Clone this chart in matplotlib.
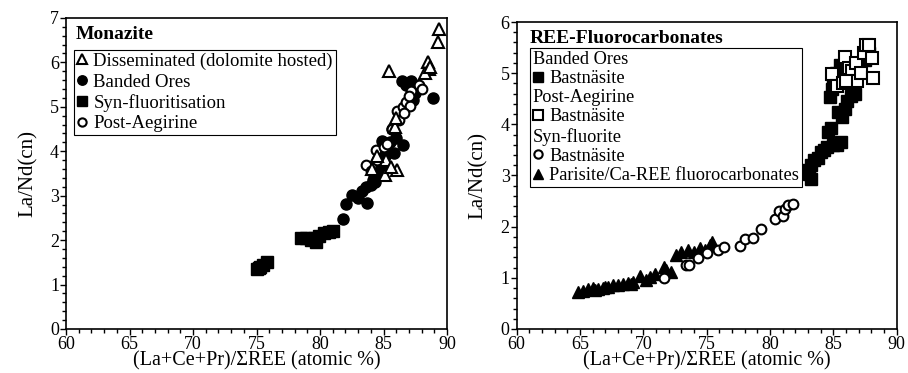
import matplotlib
matplotlib.use("Agg")
import matplotlib.pyplot as plt
from matplotlib.ticker import MultipleLocator
from matplotlib.lines import Line2D

plt.rcParams['font.family'] = ['Liberation Serif', 'DejaVu Serif']

# ---- Monazite (left panel) ----
diss_x = [89.4, 89.3, 88.5, 88.6, 88.3, 85.4, 86.1, 85.1, 84.1, 85.2, 85.6, 85.9, 86.0, 84.5, 88.7]
diss_y = [6.74, 6.45, 6.0, 5.85, 5.75, 5.8, 3.57, 3.46, 3.6, 3.8, 3.65, 4.55, 4.75, 3.9, 5.9]

banded_x = [81.8, 82.05, 82.5, 83.0, 83.3, 83.7, 84.0, 84.3, 84.6, 84.8, 84.9, 85.3, 85.5, 85.8,
            86.0, 86.5, 86.46, 87.2, 87.5, 87.3, 88.9, 86.8, 85.7, 86.2, 83.6, 84.2, 85.1]
banded_y = [2.47, 2.81, 3.02, 2.95, 3.1, 2.84, 3.25, 3.3, 3.5, 3.7, 4.22, 4.0, 4.2, 3.95,
            4.3, 4.13, 5.57, 5.57, 5.3, 5.15, 5.2, 5.5, 4.5, 4.8, 3.2, 3.35, 3.9]

synfl_x = [75.0, 75.2, 75.5, 75.8, 75.3, 78.5, 78.9, 79.3, 79.7, 79.9, 80.3, 80.7, 81.0, 79.5]
synfl_y = [1.35, 1.38, 1.45, 1.5, 1.4, 2.05, 2.05, 2.0, 1.95, 2.1, 2.15, 2.18, 2.2, 2.05]

postaeg_x = [83.6, 84.4, 84.5, 85.0, 85.3, 85.7, 86.2, 86.1, 86.5, 86.8, 87.1, 87.2, 87.0, 87.8,
             88.0, 86.6, 84.0]
postaeg_y = [3.68, 4.03, 3.8, 4.1, 4.16, 4.5, 4.71, 4.9, 5.0, 5.1, 5.01, 5.35, 5.25, 5.5,
             5.4, 4.85, 3.55]

# ---- REE-Fluorocarbonates (right panel) ----
bast_band_x = [83.2, 83.0, 83.2, 83.5, 83.8, 84.0, 84.3, 84.5, 84.6, 84.8, 85.0, 85.3, 85.6,
               85.4, 85.7, 85.9, 86.1, 86.4, 86.7, 84.7, 85.0, 85.2, 85.5, 85.8, 86.2, 87.1,
               87.5, 87.8, 87.6, 83.1, 84.9]
bast_band_y = [2.94, 3.1, 3.2, 3.3, 3.35, 3.45, 3.5, 3.55, 3.85, 3.92, 3.6, 3.6, 3.65,
               4.25, 4.15, 4.3, 4.45, 4.55, 4.6, 4.53, 4.85, 5.0, 5.15, 5.05, 5.1, 5.1,
               5.25, 5.4, 5.55, 3.02, 4.7]

bast_post_x = [84.9, 85.3, 85.9, 85.8, 86.2, 86.5, 86.8, 86.9, 87.2, 87.4, 87.55, 87.8, 88.08,
               88.1, 86.0]
bast_post_y = [4.99, 4.75, 5.32, 4.8, 5.1, 5.05, 5.2, 4.85, 5.0, 5.4, 5.56, 5.55, 5.3,
               4.9, 4.85]

bast_syn_x = [71.6, 73.4, 73.6, 74.3, 75.0, 75.9, 76.4, 77.6, 78.0, 78.65, 79.3, 80.4, 80.7,
              81.0, 81.2, 81.4, 81.8]
bast_syn_y = [1.0, 1.26, 1.25, 1.38, 1.48, 1.55, 1.6, 1.63, 1.75, 1.77, 1.95, 2.15, 2.3,
              2.2, 2.35, 2.42, 2.44]

parisite_x = [64.84, 65.2, 65.6, 66.0, 66.4, 66.8, 67.2, 67.6, 68.0, 68.4, 68.8, 69.2, 69.7,
              70.2, 70.5, 70.9, 71.6, 71.8, 72.2, 72.6, 73.0, 73.5, 74.0, 74.5, 74.9, 75.3,
              75.45, 66.2, 67.0, 69.0]
parisite_y = [0.73, 0.75, 0.78, 0.8, 0.78, 0.8, 0.83, 0.85, 0.86, 0.87, 0.9, 0.92, 1.03,
              0.95, 1.02, 1.08, 1.22, 1.15, 1.12, 1.44, 1.5, 1.55, 1.5, 1.58, 1.55, 1.65,
              1.7, 0.76, 0.82, 0.88]


def style_axis(ax, ymax):
    ax.set_xlim(60, 90)
    ax.set_ylim(0, ymax)
    ax.xaxis.set_major_locator(MultipleLocator(5))
    ax.xaxis.set_minor_locator(MultipleLocator(1))
    ax.yaxis.set_major_locator(MultipleLocator(1))
    ax.yaxis.set_minor_locator(MultipleLocator(0.2))
    ax.tick_params(which='both', direction='out', labelsize=13, pad=1, width=1)
    ax.tick_params(which='major', length=4)
    ax.tick_params(which='minor', length=3)
    ax.set_xlabel('(La+Ce+Pr)/\u03a3REE (atomic %)', fontsize=14.5, labelpad=-1)
    ax.set_ylabel('La/Nd(cn)', fontsize=15, labelpad=9)
    for s in ax.spines.values():
        s.set_linewidth(1.2)


fig = plt.figure(figsize=(9.08, 3.73), dpi=100)
ax1 = fig.add_axes([0.0727, 0.118, 0.4196, 0.834])
ax2 = fig.add_axes([0.569, 0.118, 0.4185, 0.823])

# left panel
ax1.plot(synfl_x, synfl_y, 's', color='black', ms=8, ls='none', label='Syn-fluoritisation')
ax1.plot(banded_x, banded_y, 'o', color='black', ms=8, ls='none', label='Banded Ores')
ax1.plot(postaeg_x, postaeg_y, 'o', mfc='white', mec='black', mew=1.5, ms=7, ls='none',
         label='Post-Aegirine')
ax1.plot(diss_x, diss_y, '^', mfc='white', mec='black', mew=1.5, ms=8, ls='none',
         label='Disseminated (dolomite hosted)')
style_axis(ax1, 7)
h, l = ax1.get_legend_handles_labels()
order = [3, 1, 0, 2]
leg1 = ax1.legend([h[i] for i in order], [l[i] for i in order], loc='upper left',
                  bbox_to_anchor=(0.02, 0.897), fontsize=13.5, frameon=True, fancybox=False,
                  edgecolor='black', framealpha=1, handlelength=0.6, handletextpad=0.3,
                  labelspacing=0.18, borderpad=0.15, borderaxespad=0, markerscale=0.85)
leg1.get_frame().set_linewidth(0.8)
ax1.text(0.025, 0.975, 'Monazite', transform=ax1.transAxes, fontsize=14,
         fontweight='bold', va='top', ha='left')

# right panel
ax2.plot(parisite_x, parisite_y, '^', color='black', ms=8, ls='none')
ax2.plot(bast_syn_x, bast_syn_y, 'o', mfc='white', mec='black', mew=1.5, ms=7, ls='none')
ax2.plot(bast_band_x, bast_band_y, 's', color='black', ms=8, ls='none')
ax2.plot(bast_post_x, bast_post_y, 's', mfc='white', mec='black', mew=1.5, ms=8, ls='none')
style_axis(ax2, 6)

blank = Line2D([], [], ls='none', marker='none')
handles2 = [blank,
            Line2D([], [], ls='none', marker='s', color='black', ms=7),
            blank,
            Line2D([], [], ls='none', marker='s', mfc='white', mec='black', mew=1.5, ms=7),
            blank,
            Line2D([], [], ls='none', marker='o', mfc='white', mec='black', mew=1.5, ms=6),
            Line2D([], [], ls='none', marker='^', color='black', ms=7)]
labels2 = ['Banded Ores', 'Bastn\u00e4site', 'Post-Aegirine', 'Bastn\u00e4site',
           'Syn-fluorite', 'Bastn\u00e4site', 'Parisite/Ca-REE fluorocarbonates']
headers = {'Banded Ores', 'Post-Aegirine', 'Syn-fluorite'}
leg2 = ax2.legend(handles2, labels2, loc='upper left', bbox_to_anchor=(0.035, 0.915),
                  fontsize=13.2, frameon=True, fancybox=False, edgecolor='black',
                  framealpha=1, handlelength=0.6, handletextpad=0.3, labelspacing=0.12,
                  borderpad=0.15, borderaxespad=0)
leg2.get_frame().set_linewidth(0.8)
# pull the group headings out to the left edge (no marker slot)
for col in leg2._legend_handle_box.get_children():
    for row in col.get_children():
        kids = row.get_children()
        if len(kids) == 2 and kids[1]._text.get_text() in headers:
            kids.pop(0)
ax2.text(0.035, 0.975, 'REE-Fluorocarbonates', transform=ax2.transAxes, fontsize=14,
         fontweight='bold', va='top', ha='left')

fig.savefig('out.png', dpi=100)
